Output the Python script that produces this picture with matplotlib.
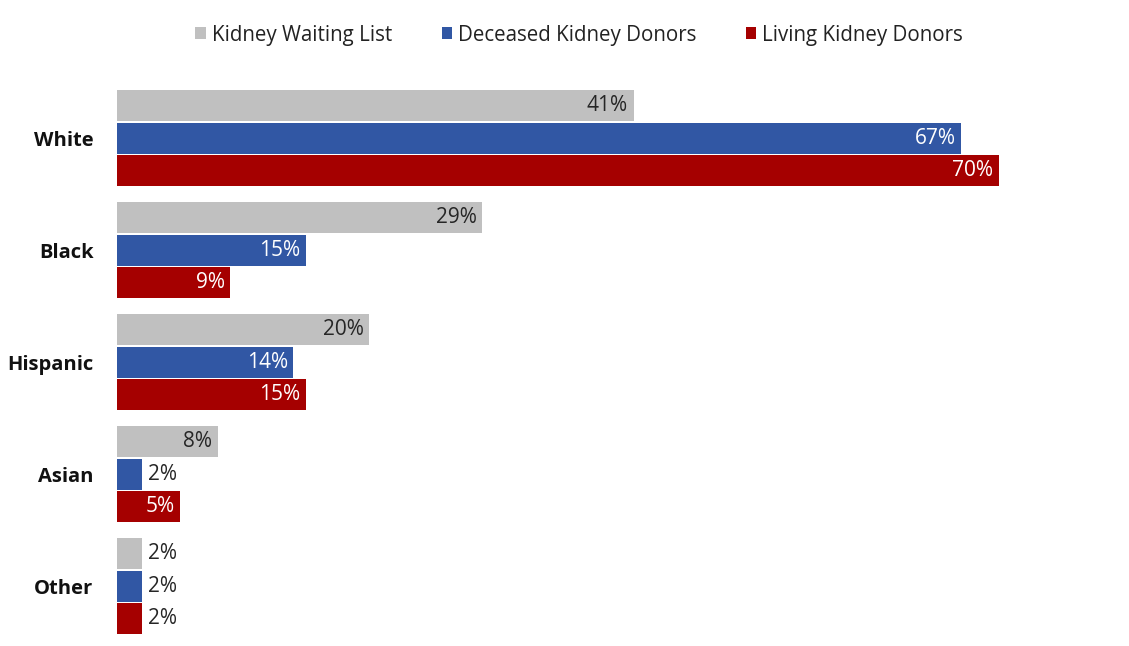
import matplotlib
matplotlib.use("Agg")
import matplotlib.pyplot as plt
from matplotlib.patches import Patch
import numpy as np

categories = ["White", "Black", "Hispanic", "Asian", "Other"]
series_names = ["Kidney Waiting List", "Deceased Kidney Donors", "Living Kidney Donors"]
waiting_list = [41, 29, 20, 8, 2]
deceased_donors = [67, 15, 14, 2, 2]
living_donors = [70, 9, 15, 5, 2]
series_values = [waiting_list, deceased_donors, living_donors]
colors = ["#c0c0c0", "#3157a4", "#a50000"]
inside_text_colors = ["#262626", "white", "white"]

plt.rcParams['font.family'] = ['Open Sans', 'DejaVu Sans']

W, H = 1129, 646
fig = plt.figure(figsize=(W / 100, H / 100), dpi=100)
fig.patch.set_facecolor("white")

ax = fig.add_axes([117 / W, 0, (W - 117) / W, 1])
px_per_unit = 12.6
ax.set_xlim(0, (W - 117) / px_per_unit)
group_px = 112.1
center0 = 138
ax.set_ylim((H - center0) / group_px, (0 - center0) / group_px)

y = np.arange(len(categories))
pitch = 32.5 / group_px
bar_h = 31 / group_px
offsets = [-pitch, 0, pitch]

for s, (vals, col, tcol) in enumerate(zip(series_values, colors, inside_text_colors)):
    ypos = y + offsets[s]
    ax.barh(ypos, vals, height=bar_h, color=col, label=series_names[s])
    for yy, v in zip(ypos, vals):
        if v >= 5:
            ax.annotate(f"{v}%", xy=(v, yy), xytext=(-4, 0), textcoords="offset points",
                        ha="right", va="center", color=tcol, fontsize=15)
        else:
            ax.annotate(f"{v}%", xy=(v, yy), xytext=(4, 0), textcoords="offset points",
                        ha="left", va="center", color="#262626", fontsize=15)

ax.set_yticks(y)
ax.set_yticklabels(categories, fontsize=14.5, fontweight="bold", color="#111111")
ax.tick_params(axis="y", length=0, pad=17)
ax.set_xticks([])
for sp in ax.spines.values():
    sp.set_visible(False)

handles = [Patch(facecolor=c, edgecolor="none") for c in colors]
fig.legend(handles, series_names, loc="center", bbox_to_anchor=(0.513, 1 - 35 / H),
           ncol=3, frameon=False, fontsize=14.8, handlelength=0.5, handleheight=0.5,
           handletextpad=0.3, columnspacing=2.4, labelcolor="#222222")

fig.savefig("out.png", dpi=100, facecolor="white")
